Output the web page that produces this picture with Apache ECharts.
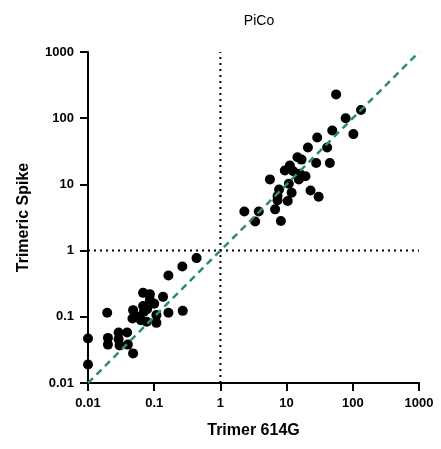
<!DOCTYPE html>
<html>
<head>
<meta charset="utf-8">
<script src="https://cdn.jsdelivr.net/npm/echarts@6/dist/echarts.min.js"></script>
<style>
  html, body { margin: 0; padding: 0; background: #fff; }
  #chart { width: 441px; height: 449px; }
</style>
</head>
<body>
<div id="chart"></div>
<script>
// tick values on both log axes
const tickValues = [0.01, 0.1, 1, 10, 100, 1000];

// Trimer 614G (x) vs Trimeric Spike (y), low titre group
const lowX = [0.01, 0.01, 0.0195, 0.02, 0.02, 0.029, 0.029, 0.03, 0.039, 0.04, 0.048, 0.048, 0.047,
              0.068, 0.086, 0.086, 0.068, 0.07, 0.063, 0.077, 0.1, 0.108, 0.108, 0.136, 0.164, 0.164,
              0.266, 0.27, 0.436, 0.058, 0.078];
const lowY = [0.047, 0.019, 0.115, 0.048, 0.038, 0.058, 0.046, 0.037, 0.058, 0.038, 0.028, 0.126, 0.094,
              0.23, 0.22, 0.18, 0.146, 0.119, 0.089, 0.084, 0.158, 0.106, 0.081, 0.2, 0.115, 0.42,
              0.575, 0.123, 0.77, 0.1, 0.13];

// high titre group
const highX = [56, 133, 78, 102, 49, 29, 21, 41, 14.6, 16.8, 28, 45, 11.2, 9.4, 12.6, 15.8, 19.3, 15.3,
               5.6, 10.8, 7.7, 11.9, 7.3, 23, 30.5, 10.4, 6.7, 3.8, 2.3, 3.35, 8.2, 7.3];
const highY = [229, 133, 100, 57.5, 65, 51, 36, 36, 25.7, 23.7, 21, 21, 19.3, 16.2, 15.8, 14.5, 13.3, 11.9,
               11.9, 10.2, 8.4, 7.5, 6.7, 8.1, 6.5, 5.6, 4.2, 3.9, 3.9, 2.75, 2.8, 5.75];

// reference lines
const identityLine = [[0.01, 0.01], [1000, 1000]];
const vLine = [[1, 0.01], [1, 1000]];
const hLine = [[0.01, 1], [1000, 1]];

const points = lowX.map((x, i) => [x, lowY[i]])
  .concat(highX.map((x, i) => [x, highY[i]]));

function fmt(v) {
  let r = Math.round(Math.log10(v));
  return r < 0 ? v.toFixed(-r) : String(Math.round(v));
}

const font = 'Liberation Sans, Arial, sans-serif';

let axisBase = {
  type: 'log',
  logBase: 10,
  min: 0.01,
  max: 1000,
  splitLine: { show: false },
  axisLine: { show: true, lineStyle: { color: '#000', width: 2 } },
  axisTick: { show: true, length: 8, lineStyle: { color: '#000', width: 2 } },
  minorTick: { show: false },
  axisLabel: {
    color: '#000', fontWeight: 'bold', fontSize: 13, fontFamily: font,
    margin: 14, formatter: fmt
  },
  nameLocation: 'middle',
  nameTextStyle: { color: '#000', fontWeight: 'bold', fontSize: 16, fontFamily: font }
};

let chart = echarts.init(document.getElementById('chart'));
chart.setOption({
  animation: false,
  backgroundColor: '#fff',
  title: {
    text: 'PiCo',
    left: 254,
    textAlign: 'center',
    top: 9,
    textStyle: { color: '#000', fontSize: 14, fontWeight: 'normal', fontFamily: font }
  },
  grid: { left: 88, right: 22, top: 52, bottom: 66 },
  xAxis: Object.assign({}, axisBase, { name: 'Trimer 614G', nameGap: 40 }),
  yAxis: Object.assign({}, axisBase, { name: 'Trimeric Spike', nameGap: 56 }),
  series: [
    {
      type: 'line', data: vLine, symbol: 'none', silent: true,
      lineStyle: { color: '#000', width: 2, type: [2, 4] }
    },
    {
      type: 'line', data: hLine, symbol: 'none', silent: true,
      lineStyle: { color: '#000', width: 2, type: [2, 4] }
    },
    {
      type: 'line', data: identityLine, symbol: 'none', silent: true,
      lineStyle: { color: '#2a8a86', width: 2.5, type: [7, 5] }
    },
    {
      type: 'scatter', data: points, symbol: 'circle', symbolSize: 10,
      itemStyle: { color: '#000', opacity: 1 }
    }
  ]
});
</script>
</body>
</html>
